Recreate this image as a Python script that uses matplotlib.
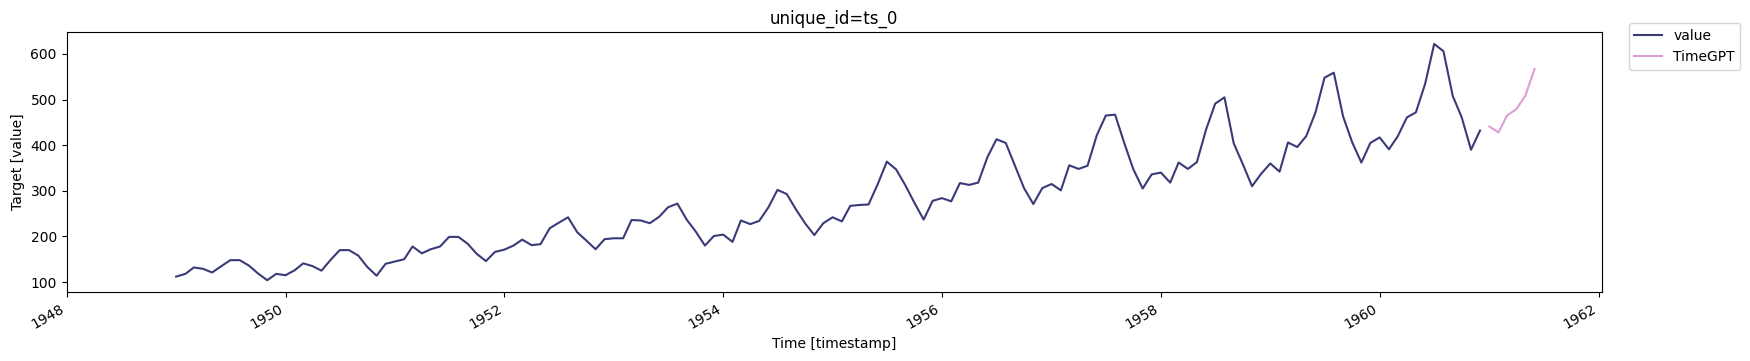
import matplotlib
matplotlib.use('Agg')
import matplotlib.pyplot as plt
import numpy as np
import pandas as pd

# AirPassengers series, monthly 1949-01 .. 1960-12
ds = pd.date_range('1949-01-01', periods=144, freq='MS')
value = [
    112, 118, 132, 129, 121, 135, 148, 148, 136, 119, 104, 118,
    115, 126, 141, 135, 125, 149, 170, 170, 158, 133, 114, 140,
    145, 150, 178, 163, 172, 178, 199, 199, 184, 162, 146, 166,
    171, 180, 193, 181, 183, 218, 230, 242, 209, 191, 172, 194,
    196, 196, 236, 235, 229, 243, 264, 272, 237, 211, 180, 201,
    204, 188, 235, 227, 234, 264, 302, 293, 259, 229, 203, 229,
    242, 233, 267, 269, 270, 315, 364, 347, 312, 274, 237, 278,
    284, 277, 317, 313, 318, 374, 413, 405, 355, 306, 271, 306,
    315, 301, 356, 348, 355, 422, 465, 467, 404, 347, 305, 336,
    340, 318, 362, 348, 363, 435, 491, 505, 404, 359, 310, 337,
    360, 342, 406, 396, 420, 472, 548, 559, 463, 407, 362, 405,
    417, 391, 419, 461, 472, 535, 622, 606, 508, 461, 390, 432,
]

# TimeGPT forecast, 1961-01 .. 1961-06
fc_ds = pd.date_range('1961-01-01', periods=6, freq='MS')
timegpt = [441, 428, 465, 479, 508, 567]

fig = plt.figure(figsize=(17.5, 3.61), dpi=100)
ax = fig.add_axes([0.038, 0.191, 0.8774, 0.72])

ax.plot(ds, value, color='#393b79', label='value')
ax.plot(fc_ds, timegpt, color='#de9ed6', label='TimeGPT')

ax.set_xlim(pd.Timestamp('1948-01-01'), pd.Timestamp('1962-01-12'))
ax.set_title('unique_id=ts_0')
ax.set_xlabel('Time [timestamp]')
ax.set_ylabel('Target [value]')
for lbl in ax.get_xticklabels():
    lbl.set_rotation(30)
    lbl.set_ha('right')

ax.legend(loc='upper left', bbox_to_anchor=(1.013, 1.06))

fig.savefig('out.png', dpi=100)
